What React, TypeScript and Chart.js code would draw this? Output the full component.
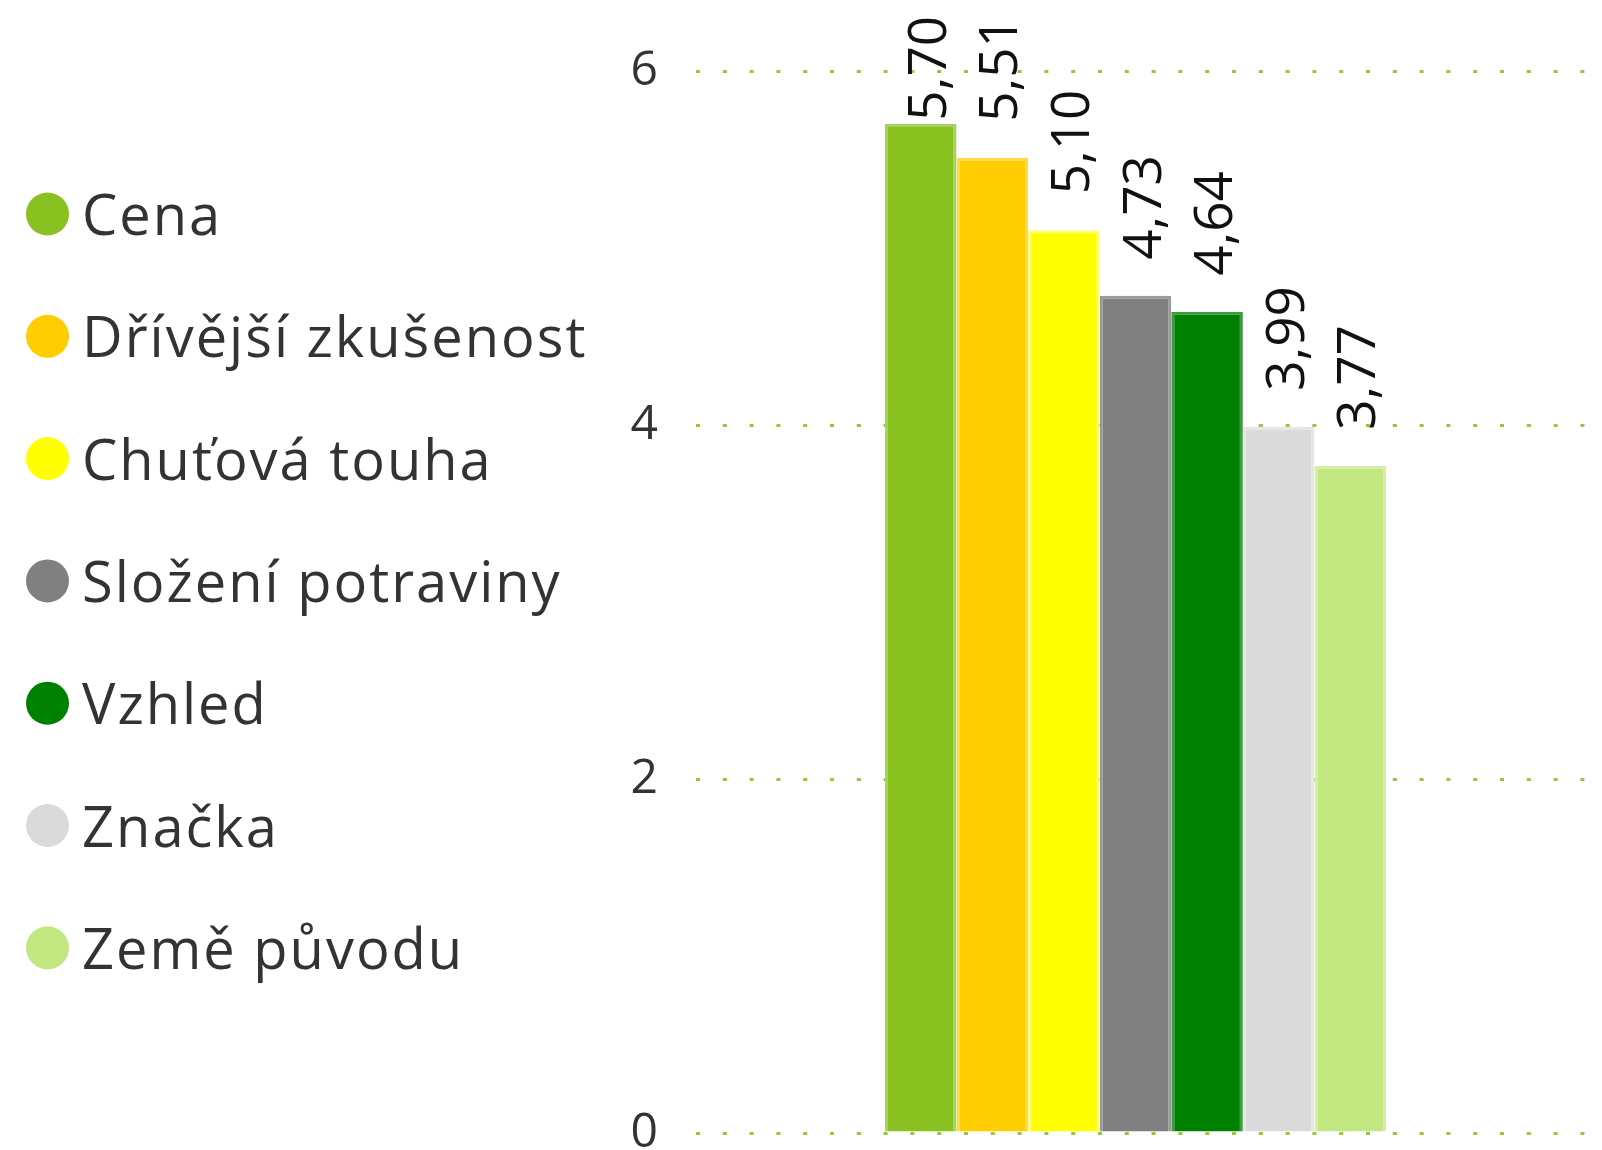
import React, { useEffect, useRef } from 'react';
import { Chart, registerables } from 'chart.js';

Chart.register(...registerables);

const categories = ['Faktory'];
const seriesNames = [
  'Cena',
  'Dřívější zkušenost',
  'Chuťová touha',
  'Složení potraviny',
  'Vzhled',
  'Značka',
  'Země původu',
];
const seriesValues = [5.7, 5.51, 5.1, 4.73, 4.64, 3.99, 3.77];
const seriesColors = ['#89C121', '#FFCD00', '#FFFF00', '#808080', '#008000', '#DADADA', '#C2E680'];
const seriesBorderColors = ['#A8D160', '#FFD94A', '#FFFF70', '#9A9A9A', '#3E9A3E', '#E6E6E6', '#D4EEA6'];
const yTickValues = [0, 2, 4, 6];

const FONT = '"Open Sans", "Noto Sans", "DejaVu Sans", sans-serif';

const fmt = (v: number) => v.toFixed(2).replace('.', ',');

const dataLabelPlugin = {
  id: 'rotatedDataLabels',
  afterDatasetsDraw(chart: any) {
    const ctx = chart.ctx;
    ctx.save();
    ctx.font = `53px ${FONT}`;
    ctx.fillStyle = '#111111';
    ctx.textAlign = 'left';
    ctx.textBaseline = 'alphabetic';
    chart.data.datasets.forEach((ds: any, i: number) => {
      const meta = chart.getDatasetMeta(i);
      const el = meta.data[0];
      if (!el) return;
      const text = fmt(ds.data[0]);
      const len = ctx.measureText(text).width;
      let origin = el.y - 36;
      if (origin - len < 16) origin = 16 + len;
      ctx.save();
      ctx.translate(el.x + 25, origin);
      ctx.rotate(-Math.PI / 2);
      ctx.fillText(text, 0, 0);
      ctx.restore();
    });
    ctx.restore();
  },
};

const sideLegendPlugin = {
  id: 'sideLegend',
  afterDraw(chart: any) {
    const ctx = chart.ctx;
    ctx.save();
    ctx.font = `56px ${FONT}`;
    try {
      (ctx as any).letterSpacing = '2px';
    } catch (e) {
      /* ignore */
    }
    ctx.textAlign = 'left';
    ctx.textBaseline = 'alphabetic';
    chart.data.datasets.forEach((ds: any, i: number) => {
      const cy = 214 + i * 122.3;
      ctx.beginPath();
      ctx.arc(47.5, cy, 21.5, 0, Math.PI * 2);
      ctx.fillStyle = ds.backgroundColor;
      ctx.fill();
      ctx.fillStyle = '#333333';
      ctx.fillText(ds.label, 82, cy + 21);
    });
    ctx.restore();
  },
};

export default function App() {
  const canvasRef = useRef<HTMLCanvasElement | null>(null);

  useEffect(() => {
    if (!canvasRef.current) return;
    const chart = new Chart(canvasRef.current, {
      type: 'bar',
      data: {
        labels: categories,
        datasets: seriesNames.map((name, i) => ({
          label: name,
          data: [seriesValues[i]],
          backgroundColor: seriesColors[i],
          borderColor: seriesBorderColors[i],
          borderWidth: { top: 3, left: 3, right: 3, bottom: 0 },
          borderSkipped: 'start',
        })),
      },
      options: {
        responsive: false,
        animation: false,
        layout: { padding: { left: 600, right: 14, top: 71, bottom: 17 } },
        datasets: {
          bar: { categoryPercentage: 0.5536, barPercentage: 1 },
        },
        plugins: {
          legend: { display: false },
          tooltip: { enabled: false },
        },
        scales: {
          x: { display: false },
          y: {
            min: 0,
            max: 6,
            afterBuildTicks: (scale: any) => {
              scale.ticks = yTickValues.map((v) => ({ value: v }));
            },
            afterFit: (scale: any) => {
              scale.width = 83;
              scale.paddingTop = 0;
              scale.paddingBottom = 0;
            },
            border: { display: false, dash: [4, 22.8], dashOffset: 13.8 },
            grid: {
              drawTicks: false,
              color: 'rgba(137,193,33,0.9)',
              lineWidth: 3,
              dash: [4, 22.8],
              dashOffset: 13.8,
              borderDash: [4, 22.8],
              borderDashOffset: 13.8,
            } as any,
            ticks: {
              padding: 25,
              color: '#333333',
              font: { family: FONT, size: 48 },
              callback: (v: any) => String(v),
            },
          },
        },
      },
      plugins: [dataLabelPlugin, sideLegendPlugin],
    } as any);
    return () => chart.destroy();
  }, []);

  return (
    <div style={{ position: 'fixed', left: 0, top: 0, width: 1602, height: 1150, background: '#fff' }}>
      <canvas ref={canvasRef} width={1602} height={1150} style={{ display: 'block' }} />
    </div>
  );
}
